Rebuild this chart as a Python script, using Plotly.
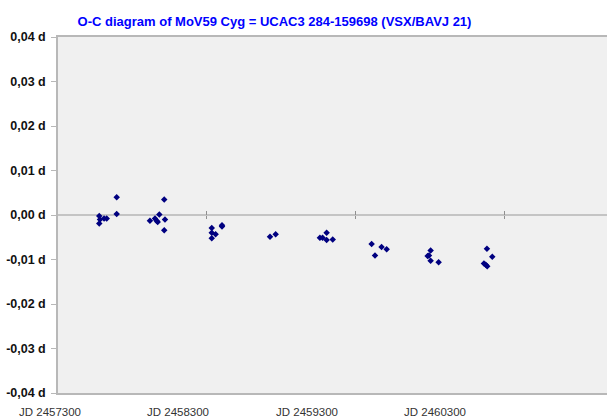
import plotly.graph_objects as go

# ---- data ----
jd = [2457577, 2457582, 2457577, 2457609, 2457627, 2457694, 2457694,
      2457917, 2457951, 2457962, 2457969, 2457980, 2458013, 2458018, 2458013,
      2458332, 2458332, 2458358, 2458332, 2458401, 2458401,
      2458723, 2458761,
      2459058, 2459076, 2459103, 2459103, 2459144,
      2459405, 2459428, 2459472, 2459506,
      2459781, 2459790, 2459801, 2459801, 2459855,
      2460159, 2460171, 2460181, 2460179, 2460215]
oc = [-0.0002, -0.0010, -0.0019, -0.0008, -0.0008, 0.0040, 0.0002,
      -0.0013, -0.0008, -0.0013, -0.0016, 0.0001, 0.0035, -0.0010, -0.0034,
      -0.0029, -0.0040, -0.0043, -0.0052, -0.0023, -0.0026,
      -0.0049, -0.0043,
      -0.0051, -0.0051, -0.0040, -0.0056, -0.0055,
      -0.0065, -0.0091, -0.0072, -0.0077,
      -0.0092, -0.0091, -0.0080, -0.0103, -0.0106,
      -0.0109, -0.0112, -0.0115, -0.0076, -0.0094]

y_tick_values = [-0.04, -0.03, -0.02, -0.01, 0.0, 0.01, 0.02, 0.03, 0.04]
y_tick_labels = ["-0,04 d", "-0,03 d", "-0,02 d", "-0,01 d", "0,00 d",
                 "0,01 d", "0,02 d", "0,03 d", "0,04 d"]
x_tick_values = [2458300, 2459300, 2460300]
x_labels = ["JD 2457300", "JD 2458300", "JD 2459300", "JD 2460300"]

# layout constants
x_range = [2457300, 2460985]
x_label_pos = [2457246, 2458105, 2458971, 2459830]
FONT = "Liberation Sans, Arial, sans-serif"
AXIS_GREY = "#b8b8b8"

fig = go.Figure()
fig.add_trace(go.Scatter(
    x=jd, y=oc, mode="markers",
    marker=dict(symbol="diamond", size=5, color="#000080",
                line=dict(width=0)),
    showlegend=False, hoverinfo="x+y"))

fig.update_layout(
    width=607, height=419,
    margin=dict(l=58, r=0, t=37, b=26, autoexpand=False),
    paper_bgcolor="white", plot_bgcolor="#f0f0f0",
    font=dict(family=FONT, size=12, color="#000000"),
    title=dict(text="<b>O-C diagram of MoV59 Cyg = UCAC3 284-159698 (VSX/BAVJ 21)</b>",
               font=dict(family=FONT, size=13, color="#0000ff"),
               x=274.5 / 607, xref="container", xanchor="center",
               y=1 - 21.5 / 419, yref="container", yanchor="middle",
               automargin=False),
    xaxis=dict(range=x_range, showline=True, linecolor=AXIS_GREY, linewidth=1.5,
               mirror=True, showgrid=False, zeroline=False, ticks="",
               showticklabels=False, automargin=False),
    xaxis2=dict(range=x_range, overlaying="x", anchor="free", position=0.5,
                showline=False, showgrid=False, zeroline=False,
                tickvals=x_tick_values, ticks="outside", ticklen=3,
                tickcolor="#909090", tickwidth=1, showticklabels=False,
                automargin=False),
    xaxis3=dict(range=x_range, overlaying="x", anchor="free", position=0.5,
                showline=False, showgrid=False, zeroline=False,
                tickvals=x_tick_values, ticks="inside", ticklen=4,
                tickcolor="#909090", tickwidth=1, showticklabels=False,
                automargin=False),
    yaxis=dict(range=[-0.04, 0.04], tickvals=y_tick_values, ticktext=y_tick_labels,
               showline=True, linecolor=AXIS_GREY, linewidth=1.5,
               ticks="outside", ticklen=5, tickcolor=AXIS_GREY,
               showgrid=False, zeroline=True, zerolinecolor="#c4c4c4",
               zerolinewidth=2, automargin=False, ticklabelstandoff=3,
               tickfont=dict(family=FONT, size=12.5, color="#111111",
                             weight="bold")),
)

# empty traces so the overlay axes are drawn
fig.add_trace(go.Scatter(x=[None], y=[None], xaxis="x2", showlegend=False))
fig.add_trace(go.Scatter(x=[None], y=[None], xaxis="x3", showlegend=False))

span = x_range[1] - x_range[0]
for pos, lab in zip(x_label_pos, x_labels):
    fig.add_annotation(x=(pos - x_range[0]) / span, xref="paper", y=0,
                       yref="paper", yanchor="top", xanchor="center",
                       yshift=-11, text=lab, showarrow=False,
                       font=dict(family=FONT, size=11.5, color="#333333"))

fig.write_html("out.html", config={"displayModeBar": False},
               post_script="document.body.style.margin='0';"
                           "document.body.style.padding='0';")
